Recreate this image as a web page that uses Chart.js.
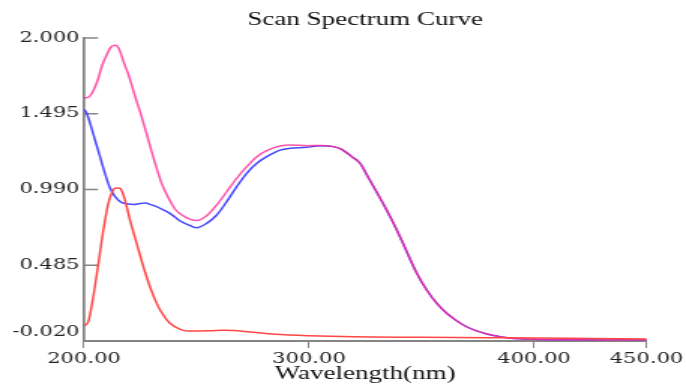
<!DOCTYPE html>
<html>
<head>
<meta charset="utf-8">
<title>Scan Spectrum Curve</title>
<script src="https://cdn.jsdelivr.net/npm/chart.js@4"></script>
<style>
    html, body { margin: 0; padding: 0; background: #fff; overflow: hidden; }
    #wrap { width: 457px; height: 392px; transform: scaleX(1.5011); transform-origin: 0 0; }
</style>
</head>
<body>
<div id="wrap"><canvas id="spectrumChart"></canvas></div>
<script>
// wavelength (nm) / absorbance
const pinkNm  = [200, 202, 204, 206, 208, 210, 212, 214, 215.5, 217.5, 220, 222.7, 225.6, 228.6, 231.6, 234.5, 237.5, 240.4, 243, 247, 250, 254.5, 259, 263.4, 267.9, 272.3, 276.8, 281.2, 287, 292, 299, 305, 310.8, 314.5, 319, 322.7, 325.6, 330, 334.5, 339, 342.7, 347.9, 352.3, 356.8, 361.2, 365.6, 370, 374.5, 379, 385, 389, 395, 400, 410, 420, 430, 440, 450];
const pinkAbs = [1.600, 1.605, 1.645, 1.715, 1.815, 1.885, 1.940, 1.952, 1.930, 1.845, 1.745, 1.610, 1.475, 1.320, 1.165, 1.031, 0.935, 0.860, 0.825, 0.793, 0.783, 0.815, 0.887, 0.975, 1.065, 1.142, 1.209, 1.249, 1.280, 1.287, 1.282, 1.284, 1.276, 1.258, 1.209, 1.165, 1.090, 0.975, 0.853, 0.720, 0.600, 0.431, 0.320, 0.231, 0.165, 0.115, 0.075, 0.047, 0.027, 0.009, 0.000, -0.006, -0.009, -0.012, -0.012, -0.013, -0.013, -0.012];

const blueNm  = [200, 201.2, 202.7, 204.9, 207.1, 209.3, 211.6, 213.8, 216.8, 219.7, 222, 224.9, 227.1, 230.1, 233.8, 238.2, 242.7, 247.1, 250.1, 254.5, 259, 263.4, 267.9, 272.3, 276.8, 281.2, 287.1, 291.6, 299, 303.4, 305, 310.8, 314.5, 319, 322.7, 325.6, 330, 334.5, 339, 342.7, 347.9, 352.3, 356.8, 361.2, 365.6, 370, 374.5, 379, 385, 389, 395, 400, 410, 420, 430, 440, 450];
const blueAbs = [1.525, 1.498, 1.431, 1.320, 1.209, 1.098, 0.998, 0.942, 0.902, 0.893, 0.890, 0.896, 0.900, 0.887, 0.865, 0.831, 0.780, 0.750, 0.735, 0.764, 0.820, 0.909, 1.009, 1.098, 1.165, 1.209, 1.253, 1.265, 1.271, 1.280, 1.282, 1.276, 1.258, 1.209, 1.165, 1.090, 0.975, 0.853, 0.720, 0.600, 0.431, 0.320, 0.231, 0.165, 0.115, 0.075, 0.047, 0.027, 0.009, 0.000, -0.006, -0.009, -0.012, -0.011, -0.013, -0.012, -0.012];

const redNm  = [200, 201.9, 204.1, 206.4, 208.6, 210.8, 213, 214.5, 216, 218.2, 220.4, 223.4, 226.4, 229.3, 232.3, 235.2, 238.2, 242.7, 246, 250, 256, 262, 266.4, 273.8, 285, 300, 320, 350, 380, 400, 425, 450];
const redAbs = [0.080, 0.109, 0.275, 0.498, 0.720, 0.898, 0.987, 1.000, 0.998, 0.920, 0.787, 0.631, 0.475, 0.342, 0.231, 0.153, 0.098, 0.058, 0.047, 0.047, 0.049, 0.052, 0.050, 0.040, 0.025, 0.015, 0.008, 0.005, 0.002, 0.000, -0.003, -0.006];

const xTicks = [200, 300, 400, 450];
const yTicks = [-0.020, 0.485, 0.990, 1.495, 2.000];

function toPoints(xs, ys) {
    return xs.map((x, i) => ({ x: x, y: ys[i] }));
}

// short tick marks pointing into the plot on the left axis,
// and the lowest y label lifted above the x axis line
const axisTweaks = {
    id: 'axisTweaks',
    beforeDraw(chart) {
        const items = chart.scales.y.getLabelItems(chart.chartArea);
        if (items.length && !items[0].lifted) {
            items[0].options.translation[1] -= 9;
            items[0].lifted = true;
        }
    },
    beforeDatasetsDraw(chart) {
        const ctx = chart.ctx;
        const y = chart.scales.y;
        ctx.save();
        ctx.strokeStyle = '#858585';
        ctx.lineWidth = 1.4;
        ctx.beginPath();
        yTicks.forEach(v => {
            const py = y.getPixelForValue(v);
            ctx.moveTo(chart.chartArea.left, py);
            ctx.lineTo(chart.chartArea.left + 9.3, py);
        });
        ctx.stroke();
        ctx.restore();
    }
};

const tickFont = { family: '"DejaVu Serif", serif', size: 14 };

new Chart(document.getElementById('spectrumChart').getContext('2d'), {
    type: 'line',
    data: {
        datasets: [{
            label: 'Sample 3',
            data: toPoints(redNm, redAbs),
            borderColor: 'rgb(255, 70, 70)',
            borderWidth: 1.5,
            pointRadius: 0,
            fill: false,
            cubicInterpolationMode: 'monotone'
        }, {
            label: 'Sample 2',
            data: toPoints(pinkNm, pinkAbs),
            borderColor: 'rgba(255, 40, 150, 0.8)',
            borderWidth: 1.5,
            pointRadius: 0,
            fill: false,
            cubicInterpolationMode: 'monotone'
        }, {
            label: 'Sample 1',
            data: toPoints(blueNm, blueAbs),
            borderColor: 'rgb(72, 72, 255)',
            borderWidth: 1.5,
            pointRadius: 0,
            fill: false,
            cubicInterpolationMode: 'monotone'
        }]
    },
    options: {
        responsive: true,
        maintainAspectRatio: false,
        animation: false,
        layout: { padding: { left: 0, right: 26.3, top: 0, bottom: 0 } },
        plugins: {
            legend: { display: false },
            tooltip: { enabled: false },
            title: {
                display: true,
                text: 'Scan Spectrum Curve',
                fullSize: false,
                color: '#111',
                font: { family: '"Liberation Serif", serif', size: 18, weight: 'normal' },
                padding: { top: 9.1, bottom: 7.3 }
            }
        },
        scales: {
            x: {
                type: 'linear',
                min: 200,
                max: 450,
                afterBuildTicks: scale => { scale.ticks = xTicks.map(v => ({ value: v })); },
                afterFit: scale => {
                    scale.height = 51;
                    scale.paddingLeft = 0;
                    scale.paddingRight = 0;
                },
                ticks: {
                    autoSkip: false,
                    maxRotation: 0,
                    padding: 3,
                    color: '#222',
                    font: tickFont,
                    callback: v => Number(v).toFixed(2)
                },
                grid: { drawOnChartArea: false, drawTicks: true, tickLength: 7, tickColor: '#858585', tickWidth: 1 },
                border: { display: true, color: '#858585', width: 2 },
                title: {
                    display: true,
                    text: 'Wavelength(nm)',
                    color: '#111',
                    font: { family: '"Liberation Serif", serif', size: 18, weight: 'normal' },
                    padding: { top: 0, bottom: 7.3 }
                }
            },
            y: {
                min: -0.02,
                max: 2.0,
                afterBuildTicks: scale => { scale.ticks = yTicks.map(v => ({ value: v })); },
                afterFit: scale => {
                    scale.width = 55.96;
                    scale.paddingTop = 0;
                    scale.paddingBottom = 0;
                },
                ticks: {
                    autoSkip: false,
                    padding: 3,
                    color: '#222',
                    font: tickFont,
                    callback: v => Number(v).toFixed(3)
                },
                grid: { drawOnChartArea: false, drawTicks: false },
                border: { display: true, color: '#858585', width: 1.8 }
            }
        }
    },
    plugins: [axisTweaks]
});
</script>
</body>
</html>
